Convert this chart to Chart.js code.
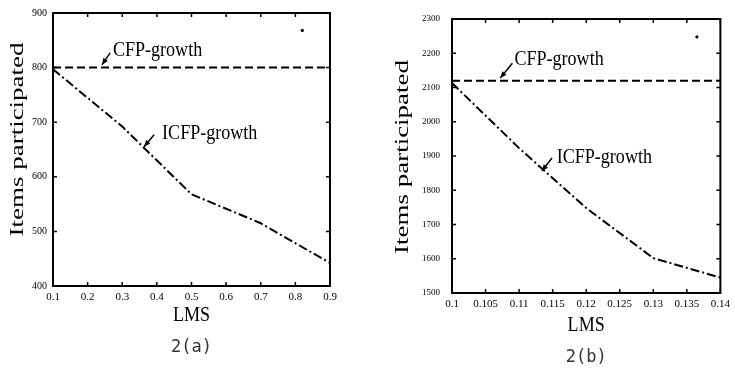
<!DOCTYPE html>
<html>
<head>
<meta charset="utf-8">
<script src="https://cdn.jsdelivr.net/npm/chart.js@4.4.0/dist/chart.umd.min.js"></script>
<style>
  html, body { margin: 0; padding: 0; background: #fff; }
  .panel { position: absolute; top: 0; height: 368px; }
  #panelA { left: 0; width: 370px; }
  #panelB { left: 370px; width: 365px; }
</style>
</head>
<body>
<div class="panel" id="panelA"><canvas id="chartA"></canvas></div>
<div class="panel" id="panelB"><canvas id="chartB"></canvas></div>
<script>
// 2(a)
const lmsA = [0.1, 0.3, 0.5, 0.7, 0.9];
const cfpA = [800, 800, 800, 800, 800];
const icfpA = [797, 692, 568, 515, 442];
const dotXA = [0.82];
const dotYA = [868];
const xLabelsA = ["0.1", "0.2", "0.3", "0.4", "0.5", "0.6", "0.7", "0.8", "0.9"];
const yLabelsA = ["400", "500", "600", "700", "800", "900"];

// 2(b)
const lmsB = [0.1, 0.11, 0.12, 0.13, 0.14];
const cfpB = [2120, 2120, 2120, 2120, 2120];
const icfpB = [2113, 1923, 1748, 1602, 1545];
const dotXB = [0.1365];
const dotYB = [2248];
const xLabelsB = ["0.1", "0.105", "0.11", "0.115", "0.12", "0.125", "0.13", "0.135", "0.14"];
const yLabelsB = ["1500", "1600", "1700", "1800", "1900", "2000", "2100", "2200", "2300"];

const xTitle = "LMS";
const yTitle = "Items participated";
const cfpName = "CFP-growth";
const icfpName = "ICFP-growth";

const serif = "'Liberation Serif', 'Times New Roman', serif";

function drawText(ctx, text, x, y, sx, rotate) {
  ctx.save();
  ctx.translate(x, y);
  if (rotate) ctx.rotate(-Math.PI / 2);
  ctx.scale(sx, 1);
  ctx.fillText(text, 0, 0);
  ctx.restore();
}

function arrow(ctx, x1, y1, x2, y2) {
  const ang = Math.atan2(y2 - y1, x2 - x1);
  ctx.beginPath();
  ctx.moveTo(x1, y1);
  ctx.lineTo(x2, y2);
  ctx.stroke();
  ctx.beginPath();
  ctx.moveTo(x2, y2);
  ctx.lineTo(x2 - 7 * Math.cos(ang - 0.4), y2 - 7 * Math.sin(ang - 0.4));
  ctx.lineTo(x2 - 7 * Math.cos(ang + 0.4), y2 - 7 * Math.sin(ang + 0.4));
  ctx.closePath();
  ctx.fill();
}

// matlab-like box, inward ticks, labels and arrows
const framePlugin = {
  id: "frame",
  afterDraw(chart, args, opts) {
    const { ctx, chartArea: a, scales } = chart;
    const xs = scales.x, ys = scales.y;
    ctx.save();
    ctx.strokeStyle = "#000";
    ctx.fillStyle = "#000";
    ctx.lineWidth = 1.5;
    ctx.beginPath();
    xs.ticks.forEach((t) => {
      const px = xs.getPixelForValue(t.value);
      ctx.moveTo(px, a.bottom); ctx.lineTo(px, a.bottom - 4);
      ctx.moveTo(px, a.top); ctx.lineTo(px, a.top + 4);
    });
    ys.ticks.forEach((t) => {
      const py = ys.getPixelForValue(t.value);
      ctx.moveTo(a.left, py); ctx.lineTo(a.left + 4, py);
      ctx.moveTo(a.right, py); ctx.lineTo(a.right - 4, py);
    });
    ctx.stroke();
    ctx.lineWidth = 2;
    ctx.strokeRect(a.left, a.top, a.right - a.left, a.bottom - a.top);

    // series notes
    ctx.font = "21px " + serif;
    ctx.textAlign = "left";
    ctx.textBaseline = "middle";
    ctx.lineWidth = 1.5;
    opts.notes.forEach((n) => {
      drawText(ctx, n.text, xs.getPixelForValue(n.x), ys.getPixelForValue(n.y), 0.86, false);
      arrow(ctx, xs.getPixelForValue(n.from[0]), ys.getPixelForValue(n.from[1]),
        xs.getPixelForValue(n.to[0]), ys.getPixelForValue(n.to[1]));
    });

    // axis titles
    const cx = (a.left + a.right) / 2;
    ctx.textAlign = "center";
    ctx.font = "21px " + serif;
    drawText(ctx, xTitle, cx, a.bottom + opts.xTitleGap, 0.86, false);
    ctx.font = "18px " + serif;
    drawText(ctx, yTitle, opts.yTitleX, (a.top + a.bottom) / 2 + opts.yTitleShift, 1.5, true);

    ctx.font = "17px 'DejaVu Sans Mono', monospace";
    ctx.fillStyle = "#333";
    drawText(ctx, opts.caption, cx, a.bottom + opts.captionGap, 1, false);
    ctx.restore();
  },
};

function makeChart(id, d) {
  return new Chart(document.getElementById(id), {
    type: "line",
    data: {
      datasets: [
        {
          label: cfpName,
          data: d.lms.map((x, i) => ({ x: x, y: d.cfp[i] })),
          borderColor: "#000",
          borderWidth: 2,
          borderDash: [8, 4],
          pointRadius: 0,
        },
        {
          label: icfpName,
          data: d.lms.map((x, i) => ({ x: x, y: d.icfp[i] })),
          borderColor: "#000",
          borderWidth: 2,
          borderDash: [9, 3, 2, 3],
          pointRadius: 0,
        },
        {
          type: "scatter",
          label: "",
          data: d.dotX.map((x, i) => ({ x: x, y: d.dotY[i] })),
          backgroundColor: "#000",
          borderColor: "#000",
          borderWidth: 0,
          pointRadius: 1.6,
        },
      ],
    },
    options: {
      responsive: true,
      maintainAspectRatio: false,
      animation: false,
      layout: { padding: d.padding },
      plugins: {
        legend: { display: false },
        tooltip: { enabled: false },
        frame: d.frame,
      },
      scales: {
        x: {
          type: "linear",
          min: parseFloat(d.xLabels[0]),
          max: parseFloat(d.xLabels[d.xLabels.length - 1]),
          afterBuildTicks: (scale) => {
            scale.ticks = d.xLabels.map((l) => ({ value: parseFloat(l) }));
          },
          afterFit: (scale) => {
            scale.height = d.xHeight;
          },
          ticks: {
            autoSkip: false,
            maxRotation: 0,
            padding: 5,
            color: "#000",
            font: { family: serif, size: 11 },
            callback: (v, i) => d.xLabels[i],
          },
          grid: { display: false, drawTicks: false },
          border: { display: false },
        },
        y: {
          min: parseFloat(d.yLabels[0]),
          max: parseFloat(d.yLabels[d.yLabels.length - 1]),
          afterBuildTicks: (scale) => {
            scale.ticks = d.yLabels.map((l) => ({ value: parseFloat(l) }));
          },
          afterFit: (scale) => {
            scale.width = d.yWidth;
          },
          ticks: {
            autoSkip: false,
            padding: d.yPad,
            color: "#000",
            font: { family: serif, size: d.yFont },
            callback: (v, i) => d.yLabels[i],
          },
          grid: { display: false, drawTicks: false },
          border: { display: false },
        },
      },
    },
    plugins: [framePlugin],
  });
}

makeChart("chartA", {
  lms: lmsA, cfp: cfpA, icfp: icfpA, dotX: dotXA, dotY: dotYA,
  xLabels: xLabelsA, yLabels: yLabelsA,
  padding: { left: 0, right: 40, top: 13, bottom: 0 },
  xHeight: 82, yWidth: 53, yPad: 6, yFont: 10,
  frame: {
    caption: "2(a)", xTitleGap: 29, captionGap: 62, yTitleX: 18, yTitleShift: -10,
    notes: [
      { text: cfpName, x: 0.273, y: 832, from: [0.265, 827], to: [0.2415, 805] },
      { text: icfpName, x: 0.415, y: 680, from: [0.392, 677], to: [0.363, 655] },
    ],
  },
});

makeChart("chartB", {
  lms: lmsB, cfp: cfpB, icfp: icfpB, dotX: dotXB, dotY: dotYB,
  xLabels: xLabelsB, yLabels: yLabelsB,
  padding: { left: 0, right: 12, top: 19, bottom: 0 },
  xHeight: 75, yWidth: 82, yPad: 12, yFont: 9,
  frame: {
    caption: "2(b)", xTitleGap: 32, captionGap: 65, yTitleX: 33, yTitleShift: 1,
    notes: [
      { text: cfpName, x: 0.1093, y: 2183, from: [0.109, 2171], to: [0.1072, 2128] },
      { text: icfpName, x: 0.1156, y: 1897, from: [0.1149, 1894], to: [0.1134, 1856] },
    ],
  },
});
</script>
</body>
</html>
